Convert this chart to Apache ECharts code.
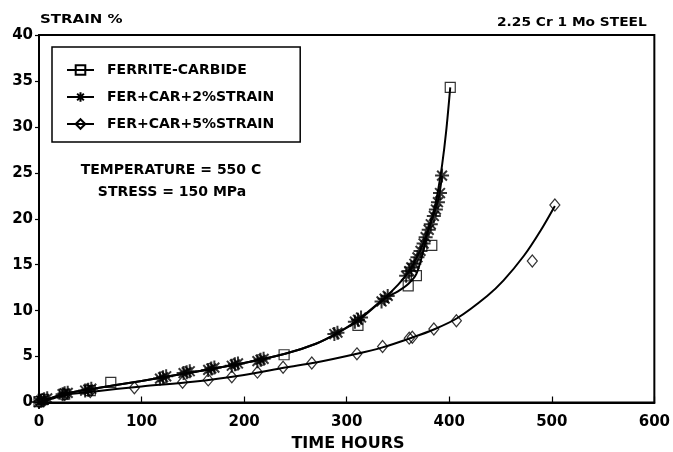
<!DOCTYPE html>
<html>
<head>
<meta charset="utf-8">
<script src="https://cdn.jsdelivr.net/npm/echarts@6/dist/echarts.min.js"></script>
<style>
  html, body { margin: 0; padding: 0; background: #fff; }
  #chart { width: 673px; height: 452px; }
</style>
</head>
<body>
<div id="chart"></div>
<script>
// Creep curves, 2.25 Cr 1 Mo steel at 550 C / 150 MPa

const seriesNames = ['FERRITE-CARBIDE', 'FER+CAR+2%STRAIN', 'FER+CAR+5%STRAIN'];
const xTicks = [0, 100, 200, 300, 400, 500, 600];
const yTicks = [0, 5, 10, 15, 20, 25, 30, 35, 40];

// measured points (time in hours, strain in %)
const fcHours  = [0, 4, 25, 50, 70, 239, 311, 360, 368, 383, 401];
const fcStrain = [0.1, 0.35, 0.9, 1.3, 2.2, 5.2, 8.4, 12.7, 13.8, 17.1, 34.3];

const s2Hours  = [0, 2, 5, 8, 23, 25, 28, 45, 48, 51, 118, 121, 124, 141, 144, 147,
                  165, 168, 171, 188, 191, 194, 213, 216, 219, 288, 291, 308, 311, 314,
                  334, 337, 340, 358, 361, 363, 366, 369, 372, 375, 377, 380, 382, 385,
                  387, 389, 391, 393];
const s2Strain = [0.05, 0.2, 0.35, 0.45, 0.9, 1.0, 1.05, 1.3, 1.4, 1.5, 2.6, 2.75, 2.85, 3.2, 3.3, 3.4,
                  3.55, 3.7, 3.8, 4.0, 4.15, 4.25, 4.5, 4.65, 4.75, 7.45, 7.6, 8.8, 9.0, 9.25,
                  11.0, 11.3, 11.6, 13.8, 14.3, 14.7, 15.1, 15.8, 16.5, 17.3, 18.0, 18.8, 19.4, 20.3,
                  21.0, 21.8, 22.8, 24.7];

const s5Hours  = [0, 3, 25, 50, 93, 140, 165, 188, 213, 238, 266, 310, 335, 361, 364, 385, 407, 481, 503];
const s5Strain = [0.05, 0.3, 0.85, 1.2, 1.6, 2.2, 2.46, 2.8, 3.3, 3.84, 4.3, 5.3, 6.1, 7.0, 7.1, 8.0, 8.9, 15.4, 21.5];

// fitted creep curves
const fcFitHours  = [0, 25, 50, 100, 150, 200, 240, 270, 290, 311, 337, 350, 360, 368, 375, 379, 385, 389, 393, 397, 401];
const fcFitStrain = [0, 0.95, 1.45, 2.35, 3.3, 4.3, 5.3, 6.4, 7.5, 8.9, 11.3, 12.1, 12.9, 14.0, 16.6, 18.6, 20.8, 23.0, 25.8, 29.5, 34.3];

const s2FitHours  = [0, 25, 50, 100, 150, 200, 240, 270, 290, 311, 337, 350, 361, 366, 372, 377, 382, 387, 390, 393];
const s2FitStrain = [0, 0.95, 1.45, 2.35, 3.3, 4.3, 5.3, 6.4, 7.5, 9.0, 11.4, 12.8, 14.3, 15.3, 16.6, 18.0, 19.5, 21.2, 22.4, 24.7];

const s5FitHours  = [0, 25, 50, 100, 150, 200, 240, 270, 310, 335, 362, 385, 408, 437, 453, 473, 489, 503];
const s5FitStrain = [0, 0.8, 1.15, 1.75, 2.25, 3.0, 3.8, 4.35, 5.3, 6.0, 7.0, 7.95, 9.2, 11.6, 13.3, 16.0, 18.7, 21.4];

const pairs = (xs, ys) => xs.map((x, i) => [x, ys[i]]);

const FONT = '"DejaVu Sans", "Liberation Sans", sans-serif';
const starPath = 'path://M0,-10L0,10M-10,0L10,0M-7,-7L7,7M-7,7L7,-7';

const markers = [
  { symbol: 'rect', size: 10, width: 1.2 },
  { symbol: starPath, size: 14, width: 2 },
  { symbol: 'diamond', size: [10, 12], width: 1.2 }
];
const fits = [pairs(fcFitHours, fcFitStrain), pairs(s2FitHours, s2FitStrain), pairs(s5FitHours, s5FitStrain)];
const points = [pairs(fcHours, fcStrain), pairs(s2Hours, s2Strain), pairs(s5Hours, s5Strain)];

const series = [];
seriesNames.forEach((name, i) => {
  series.push({
    name: name,
    type: 'line',
    data: fits[i],
    smooth: 0.3,
    symbol: markers[i].symbol,
    symbolSize: markers[i].size,
    showSymbol: false,
    lineStyle: { color: '#000', width: 2 },
    itemStyle: { color: 'transparent', borderColor: '#000', borderWidth: 1.4 },
    silent: true,
    z: 2
  });
});
seriesNames.forEach((name, i) => {
  series.push({
    name: name,
    type: 'scatter',
    data: points[i],
    symbol: markers[i].symbol,
    symbolSize: markers[i].size,
    itemStyle: { color: 'transparent', borderColor: '#000', borderWidth: markers[i].width },
    silent: true,
    z: 3
  });
});

const chart = echarts.init(document.getElementById('chart'), null, { renderer: 'canvas' });
chart.setOption({
  backgroundColor: '#fff',
  animation: false,
  grid: {
    left: 39, right: 15, top: 35, bottom: 49.5,
    show: true, borderColor: '#000', borderWidth: 2
  },
  xAxis: {
    type: 'value',
    min: xTicks[0], max: xTicks[xTicks.length - 1], interval: 100,
    axisLine: { lineStyle: { color: '#000', width: 2 } },
    axisTick: { inside: true, length: 6, lineStyle: { color: '#000', width: 1.2 } },
    axisLabel: { color: '#000', fontFamily: FONT, fontWeight: 'bold', fontSize: 15, margin: 12 },
    splitLine: { show: false }
  },
  yAxis: {
    type: 'value',
    min: yTicks[0], max: yTicks[yTicks.length - 1], interval: 5,
    axisLine: { lineStyle: { color: '#000', width: 2 } },
    axisTick: { inside: false, length: 4, lineStyle: { color: '#000', width: 1.2 } },
    axisLabel: { color: '#000', fontFamily: FONT, fontWeight: 'bold', fontSize: 15, margin: 6 },
    splitLine: { show: false }
  },
  legend: {
    data: seriesNames,
    orient: 'vertical',
    left: 52, top: 47,
    padding: [16, 26, 11, 14],
    itemGap: 13,
    itemWidth: 27,
    itemHeight: 12,
    borderColor: '#000',
    borderWidth: 1.5,
    selectedMode: false,
    textStyle: { color: '#000', fontFamily: FONT, fontWeight: 'bold', fontSize: 14, padding: [0, 0, 0, 8] }
  },
  graphic: [
    { type: 'text', x: 40, y: 20, scaleX: 1.25, silent: true,
      style: { text: 'STRAIN %', font: 'bold 12px ' + FONT, fill: '#000',
               textAlign: 'left', textVerticalAlign: 'middle', align: 'left', verticalAlign: 'middle' } },
    { type: 'text', x: 497, y: 22.5, scaleX: 1.06, silent: true,
      style: { text: '2.25 Cr 1 Mo STEEL', font: 'bold 13px ' + FONT, fill: '#000',
               textAlign: 'left', textVerticalAlign: 'middle', align: 'left', verticalAlign: 'middle' } },
    { type: 'text', x: 171, y: 170, silent: true,
      style: { text: 'TEMPERATURE = 550 C', font: 'bold 14px ' + FONT, fill: '#000',
               textAlign: 'center', textVerticalAlign: 'middle', align: 'center', verticalAlign: 'middle' } },
    { type: 'text', x: 172, y: 192, silent: true,
      style: { text: 'STRESS = 150 MPa', font: 'bold 14px ' + FONT, fill: '#000',
               textAlign: 'center', textVerticalAlign: 'middle', align: 'center', verticalAlign: 'middle' } },
    { type: 'text', x: 348, y: 443.5, silent: true,
      style: { text: 'TIME HOURS', font: 'bold 16px ' + FONT, fill: '#000',
               textAlign: 'center', textVerticalAlign: 'middle', align: 'center', verticalAlign: 'middle' } }
  ],
  series: series
});
</script>
</body>
</html>
